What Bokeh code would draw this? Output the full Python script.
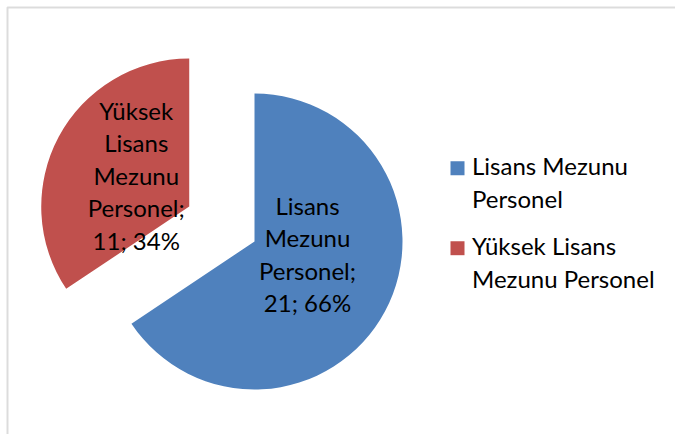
import numpy as np
from bokeh.plotting import figure
from bokeh.models import Range1d, ColumnDataSource, BoxAnnotation
from bokeh.core.properties import value
from bokeh.embed import file_html
from bokeh.resources import INLINE

# ---- data ----
categories = ["Lisans Mezunu Personel", "Yüksek Lisans Mezunu Personel"]
counts = [21, 11]
colors = ["#4F81BD", "#C0504D"]
label_names = [["Lisans", "Mezunu", "Personel;"],
               ["Yüksek", "Lisans", "Mezunu", "Personel;"]]
legend_lines = [["Lisans Mezunu", "Personel"],
                ["Yüksek Lisans", "Mezunu Personel"]]

# ---- layout ----
W, H = 675, 434
CX, CY = 254, H - 241
R = 148
explode = [0, 74]
label_offset = [(53, -12.5), (-53, 31.3)]
LINE_H = 32.5
FONT = "Lato"
FS = "24px"

p = figure(width=W, height=H, output_backend="svg", toolbar_location=None,
           x_range=Range1d(0, W), y_range=Range1d(0, H), min_border=0)
p.axis.visible = False
p.grid.visible = False
p.outline_line_color = None
p.background_fill_color = "white"
p.border_fill_color = "white"

total = float(sum(counts))
fracs = np.array(counts) / total
ends = np.cumsum(fracs)
starts = ends - fracs
start_ang = np.pi / 2 - 2 * np.pi * starts
end_ang = np.pi / 2 - 2 * np.pi * ends
mid_ang = (start_ang + end_ang) / 2

xs = [CX + explode[i] * np.cos(mid_ang[i]) for i in range(len(counts))]
ys = [CY + explode[i] * np.sin(mid_ang[i]) for i in range(len(counts))]

src = ColumnDataSource(dict(x=xs, y=ys, start=list(start_ang), end=list(end_ang),
                            color=colors, cat=categories))
p.wedge(x="x", y="y", radius=R, start_angle="start", end_angle="end",
        direction="clock", fill_color="color", line_color=None, source=src)

# data labels
lx, ly, lt = [], [], []
for i, c in enumerate(counts):
    lines = label_names[i] + [f"{c}; {round(100 * c / total)}%"]
    n = len(lines)
    mx = xs[i] + label_offset[i][0]
    my = ys[i] + label_offset[i][1]
    for j, t in enumerate(lines):
        lx.append(mx)
        ly.append(my + ((n - 1) / 2 - j) * LINE_H)
        lt.append(t)
p.text(x=lx, y=ly, text=lt, text_align="center", text_baseline="middle",
       text_font=value(FONT), text_font_size=FS, text_color="black")

# legend
SQ_X, TXT_X = 457, 471.5
first_y = H - 165
ENTRY_GAP = 80
LEG_LINE = 33.3
sx, sy, tx, ty, tt = [], [], [], [], []
for i in range(len(categories)):
    y0 = first_y - i * ENTRY_GAP
    sx.append(SQ_X)
    sy.append(y0 - 2.7)
    for j, t in enumerate(legend_lines[i]):
        tx.append(TXT_X)
        ty.append(y0 - j * LEG_LINE)
        tt.append(t)
p.rect(x=sx, y=sy, width=14, height=14, fill_color=colors, line_color=None)
p.text(x=tx, y=ty, text=tt, text_align="left", text_baseline="middle",
       text_font=value(FONT), text_font_size=FS, text_color="black")

# chart area border (cropped at right / bottom)
p.add_layout(BoxAnnotation(left=7, right=W + 20, top=H - 7, bottom=-20,
                           fill_alpha=0, line_color="#8a8a8a", line_width=2))

open("out.html", "w").write(file_html(p, INLINE))
